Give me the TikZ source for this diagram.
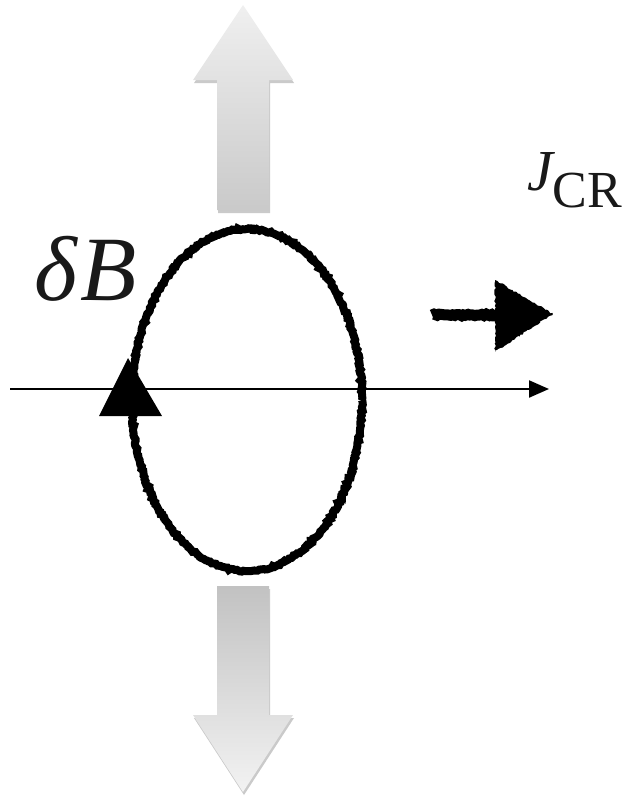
\documentclass[tikz,border=0pt]{standalone}
\usepackage{fontspec}
\setmainfont{Liberation Serif}[ItalicFont={Liberation Serif Italic}]
\usetikzlibrary{arrows.meta,shadows,decorations.pathmorphing}
\begin{document}
\begin{tikzpicture}[x=1pt,y=-1pt,
  grayarrow/.style={draw=none,drop shadow={shadow xshift=1pt,shadow yshift=-3pt,opacity=0.35,fill=black!60}},
  rough/.style={draw=black,line width=8pt,decorate,decoration={random steps,segment length=2pt,amplitude=1pt}},
  axis/.style={line width=2.2pt,-{Triangle[length=20pt,width=17pt]}},
  lbl/.style={inner sep=0pt,text=black!90}]
\useasboundingbox (0,0) rectangle (630,798);
% upper gray arrow
\shade[grayarrow,top color=gray!12,bottom color=gray!42]
  (243,5) -- (293,80) -- (269,80) -- (269,210) -- (217,210) -- (217,80) -- (193,80) -- cycle;
% lower gray arrow
\shade[grayarrow,top color=gray!48,bottom color=gray!10]
  (217,586) -- (269,586) -- (269,715) -- (293,715) -- (243,792) -- (193,715) -- (217,715) -- cycle;
% axis
\coordinate (axL) at (10,389);
\coordinate (axR) at (549,389);
\draw[axis] (axL) -- (axR);
% loop
\draw[rough] (247,400) ellipse [x radius=115, y radius=171];
\fill[black] (128,358) -- (99,416) -- (162,416) -- cycle;
% current arrow
\coordinate (jA) at (432,315);
\coordinate (jB) at (498,315);
\draw[line width=11pt,decorate,decoration={random steps,segment length=2pt,amplitude=0.9pt}] (jA) -- (jB);
\fill[black,decorate,decoration={random steps,segment length=2pt,amplitude=0.9pt}] (495,280) -- (553,314) -- (495,352) -- cycle;
% labels
\node[lbl,anchor=base west] (dB) at (34,300) {\fontsize{92}{100}\selectfont\itshape δ\kern4pt B};
\node[lbl,anchor=base west] (J) at (527,190) {\fontsize{58}{64}\selectfont\itshape J\upshape\fontsize{52}{58}\selectfont\raisebox{-17pt}{CR}};
\end{tikzpicture}
\end{document}
